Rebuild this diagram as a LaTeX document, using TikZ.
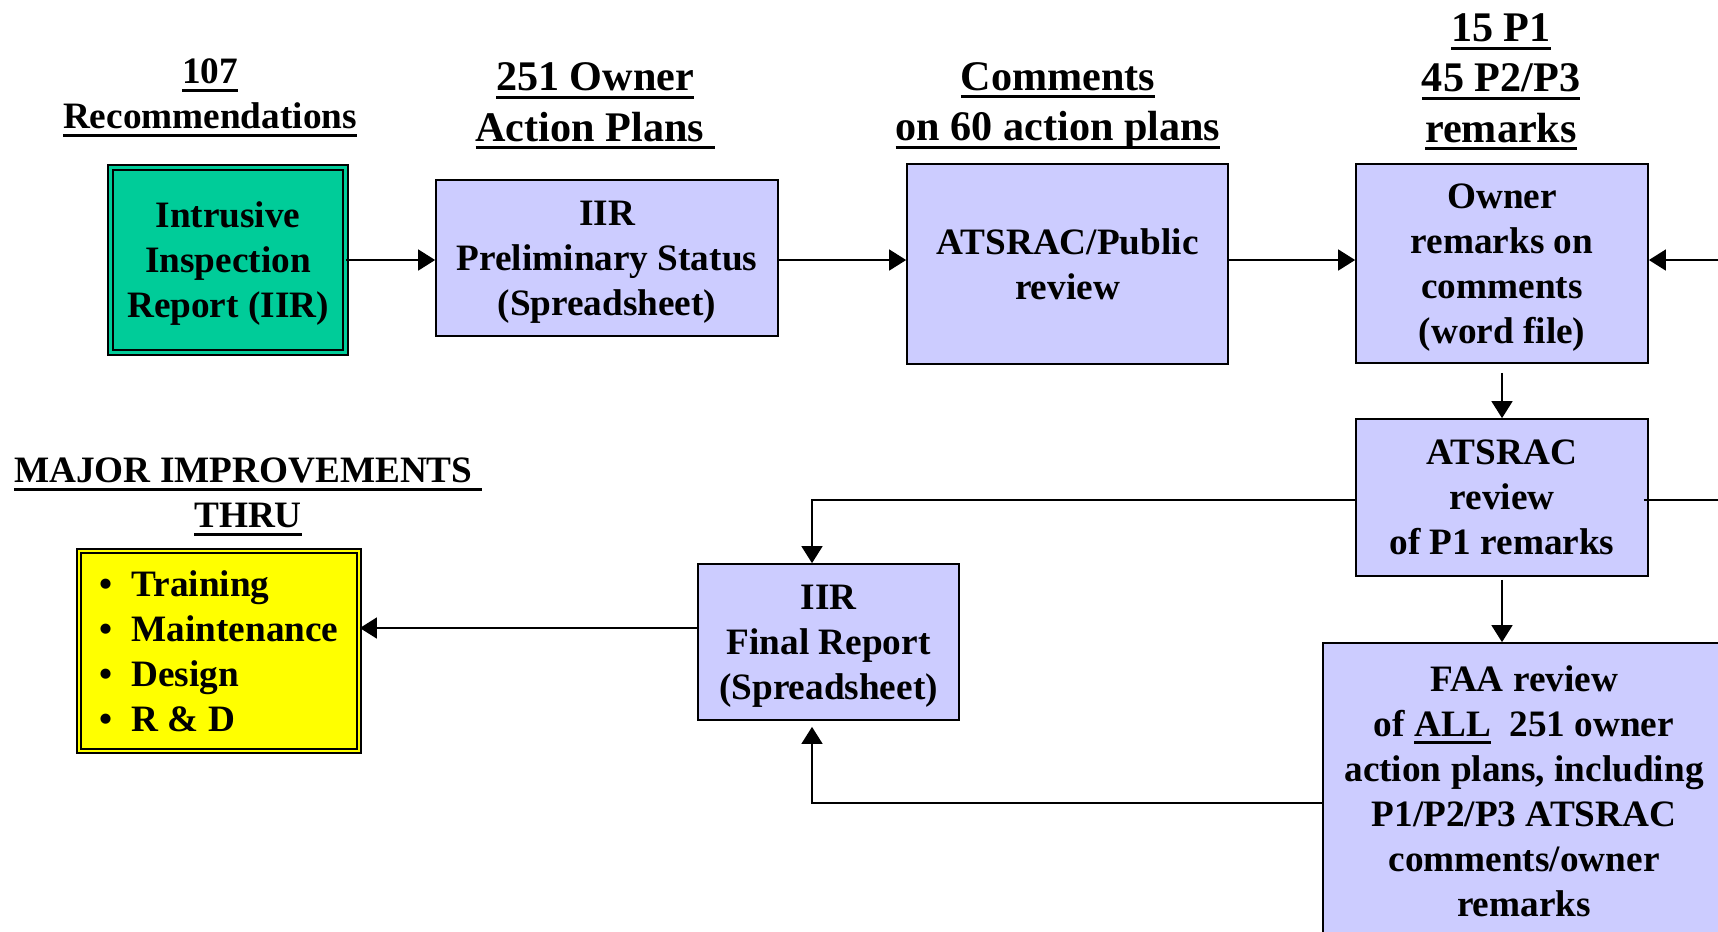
\documentclass[tikz,border=0pt]{standalone}
\usepackage{fontspec}
\setmainfont{Liberation Serif}
\usetikzlibrary{arrows.meta}
\definecolor{lav}{HTML}{CCCCFF}
\definecolor{iirgreen}{HTML}{00CC99}
\definecolor{thruyellow}{HTML}{FFFF00}
\newcommand{\ulbox}[2][2.3pt]{\setbox0=\hbox{#2}\rlap{\rule[-#1]{\wd0}{0.85pt}}\box0}
\newcommand{\itm}{\makebox[3.2mm][l]{\textbullet}}

\begin{document}
\begin{tikzpicture}[
    boxtxt/.style={font=\bfseries\fontsize{10.6}{12.8}\selectfont, align=center},
    hdtxt/.style={font=\bfseries\fontsize{12}{14.3}\selectfont, align=center},
    stepbox/.style={boxtxt, draw=black, line width=.5pt, fill=lav, inner sep=0pt, text depth=-1.5pt},
    dblbox/.style={stepbox, fill=#1, double=#1, double distance=.8pt},
    arr/.style={-{Triangle[length=1.7mm,width=2.1mm]}, line width=.45pt, black}
]
        \path[use as bounding box, clip] (0,0) rectangle (17.18,-9.31);
        % headers
        \node[boxtxt] (hRec) at (2.10,-0.98) {\ulbox{107}\\\ulbox{Recommendations}};
        \node[hdtxt] (hOwn) at (5.95,-1.06) {\ulbox{251 Owner}\\\ulbox{Action Plans\ }};
        \node[hdtxt] (hCom) at (10.58,-1.06) {\ulbox{Comments}\\\ulbox{on 60 action plans}};
        \node[hdtxt] (hP1) at (15.01,-0.82) {\ulbox{15 P1}\\\ulbox{45 P2/P3}\\\ulbox{remarks}};
        \node[boxtxt] (hMaj) at (2.48,-4.97) {\ulbox{MAJOR IMPROVEMENTS\ }\\\ulbox{THRU}};
        % top row
        \node[dblbox=iirgreen, minimum width=2.35cm, minimum height=1.85cm, text depth=-0.3pt] (iir) at (2.28,-2.60) {Intrusive\\Inspection\\Report (IIR)};
        \node[stepbox, minimum width=3.42cm, minimum height=1.56cm] (prelim) at (6.07,-2.58) {IIR\\Preliminary Status\\(Spreadsheet)};
        \node[stepbox, minimum width=3.21cm, minimum height=2.00cm] (pub) at (10.675,-2.64) {ATSRAC/Public\\review};
        \node[stepbox, minimum width=2.92cm, minimum height=1.99cm, text depth=-2pt] (owner) at (15.02,-2.635) {Owner\\remarks on\\comments\\(word file)};
        % right column
        \node[stepbox, minimum width=2.92cm, minimum height=1.57cm] (atrev) at (15.02,-4.975) {ATSRAC\\review\\of P1 remarks};
        \node[stepbox, minimum width=4.02cm, minimum height=2.97cm, text depth=0pt] (faa) at (15.24,-7.915) {FAA review\\of \ulbox[2pt]{ALL}\ \ 251 owner\\action plans, including\\P1/P2/P3 ATSRAC\\comments/owner\\remarks};
        % bottom left
        \node[stepbox, minimum width=2.61cm, minimum height=1.56cm, text depth=-1pt] (final) at (8.285,-6.42) {IIR\\Final Report\\(Spreadsheet)};
        \node[dblbox=thruyellow, minimum width=2.80cm, minimum height=2.00cm, align=left, text depth=-3.5pt] (thru) at (2.19,-6.51) {\itm Training\\\itm Maintenance\\\itm Design\\\itm R \& D};
        % arrows top row
        \draw[arr] (iir.east) -- (prelim.west |- iir.east);
        \draw[arr] (prelim.east |- iir.east) -- (pub.west |- iir.east);
        \draw[arr] (pub.east |- iir.east) -- (owner.west |- iir.east);
        \coordinate (inR) at (17.4,-2.60);
        \draw[arr] (inR) -- (owner.east |- inR);
        % arrows right column
        \draw[arr, shorten <=0.9mm] (owner.south) -- (atrev.north);
        \draw[arr, shorten <=0.3mm] (atrev.south) -- (faa.north -| atrev.south);
        \coordinate (outR) at (17.4,-5.00);
        \draw[line width=.45pt] ([xshift=-0.5mm]atrev.east |- outR) -- (outR);
        % back to final report
        \coordinate (finT) at ([xshift=-1.65mm]final.north);
        \draw[arr] (atrev.west |- outR) -| (finT);
        \coordinate (finB) at ([xshift=-1.65mm,yshift=-0.6mm]final.south);
        \draw[arr] ([yshift=-1.15mm]faa.west) -| (finB);
        \draw[arr] ([yshift=1.4mm]final.west) -- ([yshift=1.4mm]final.west -| thru.east);
\end{tikzpicture}
\end{document}
